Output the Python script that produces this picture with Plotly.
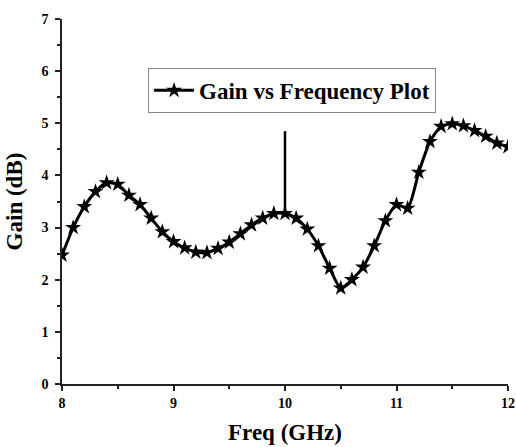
import plotly.graph_objects as go

freq = [8.0, 8.1, 8.2, 8.3, 8.4, 8.5, 8.6, 8.7, 8.8, 8.9,
        9.0, 9.1, 9.2, 9.3, 9.4, 9.5, 9.6, 9.7, 9.8, 9.9,
        10.0, 10.1, 10.2, 10.3, 10.4, 10.5, 10.6, 10.7, 10.8, 10.9,
        11.0, 11.1, 11.2, 11.3, 11.4, 11.5, 11.6, 11.7, 11.8, 11.9, 12.0]
gain = [2.47, 3.0, 3.4, 3.69, 3.86, 3.83, 3.62, 3.44, 3.18, 2.92,
        2.73, 2.61, 2.53, 2.52, 2.6, 2.72, 2.88, 3.05, 3.18, 3.27,
        3.27, 3.18, 2.97, 2.65, 2.22, 1.84, 2.0, 2.24, 2.65, 3.13,
        3.44, 3.37, 4.06, 4.65, 4.94, 4.99, 4.95, 4.86, 4.75, 4.62, 4.55]
spike_x = [10.0, 10.0]
spike_y = [3.27, 4.85]

x_ticks = [8, 9, 10, 11, 12]
y_ticks = [0, 1, 2, 3, 4, 5, 6, 7]

font_family = "Liberation Serif"

fig = go.Figure()
fig.add_trace(go.Scatter(
    x=spike_x, y=spike_y, mode="lines",
    line=dict(color="black", width=2.5), showlegend=False, hoverinfo="skip"))
fig.add_trace(go.Scatter(
    x=freq, y=gain, mode="lines+markers",
    name="<b>Gain vs Frequency Plot</b>",
    line=dict(color="black", width=3, shape="spline", smoothing=0.6),
    marker=dict(symbol="star", size=12, color="black",
                line=dict(color="black", width=0))))

axis_common = dict(
    showline=True, linecolor="#222", linewidth=1.5,
    ticks="outside", ticklen=5, tickwidth=1.5, tickcolor="#222",
    showgrid=False, zeroline=False, mirror=False, automargin=False,
    tickfont=dict(family=font_family, size=14, color="black", weight="bold"),
)

fig.update_layout(
    width=516, height=447,
    margin=dict(l=62, r=8, t=19, b=63),
    paper_bgcolor="white", plot_bgcolor="white",
    xaxis=dict(range=[8, 12], tickvals=x_ticks, ticktext=[f"<b>{v}</b>" for v in x_ticks],
               minor=dict(dtick=0.5, ticks="outside", ticklen=3, tickwidth=1.5, tickcolor="#222"),
               title=dict(text="<b>Freq (GHz)</b>", font=dict(family=font_family, size=23, color="black"),
                          standoff=14),
               **axis_common),
    yaxis=dict(range=[0, 7], tickvals=y_ticks, ticktext=[f"<b>{v}</b>" for v in y_ticks],
               minor=dict(dtick=0.5, ticks="outside", ticklen=3, tickwidth=1.5, tickcolor="#222"),
               ticklabelstandoff=4,
               title=dict(text="<b>Gain (dB)</b>", font=dict(family=font_family, size=23, color="black"),
                          standoff=12),
               **axis_common),
    legend=dict(x=0.193, y=0.866, xanchor="left", yanchor="top",
                bgcolor="white", bordercolor="#888", borderwidth=1,
                font=dict(family=font_family, size=23, color="black"),
                itemwidth=40, tracegroupgap=0),
    showlegend=True,
)

fig.write_html("out.html")
